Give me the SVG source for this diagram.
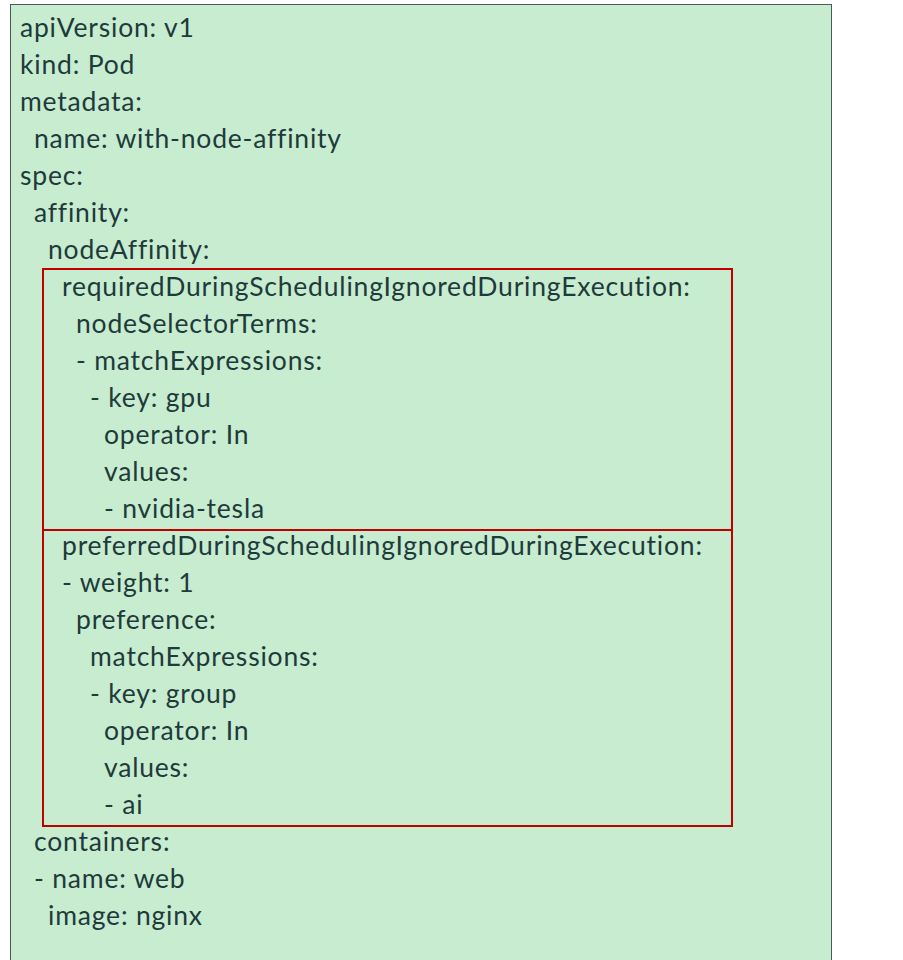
<svg xmlns="http://www.w3.org/2000/svg" width="903" height="960" viewBox="0 0 903 960">
<style>
text{font-family:Lato,"Open Sans",sans-serif;font-size:26.5px;letter-spacing:0.8px;fill:#1e3a3a}
.r{fill:none;stroke:#c00000;stroke-width:2}
</style>
<rect width="903" height="960" fill="#ffffff"/>
<g id="panel"><rect x="10.5" y="4.5" width="821" height="970" fill="#c8ecd0" stroke="#4a5a5a" stroke-width="1"/></g>
<g id="required"><rect class="r" x="43" y="269" width="689" height="261"/></g>
<g id="preferred"><rect class="r" x="43" y="530" width="689" height="296"/></g>
<g id="code">
<text x="20" y="37">apiVersion: v1</text>
<text x="20" y="74">kind: Pod</text>
<text x="20" y="111">metadata:</text>
<text x="34" y="148">name: with-node-affinity</text>
<text x="20" y="185">spec:</text>
<text x="34" y="222">affinity:</text>
<text x="48" y="259">nodeAffinity:</text>
<text x="62" y="296">requiredDuringSchedulingIgnoredDuringExecution:</text>
<text x="76" y="333">nodeSelectorTerms:</text>
<text x="76" y="370">- matchExpressions:</text>
<text x="90" y="407">- key: gpu</text>
<text x="104" y="444">operator: In</text>
<text x="104" y="481">values:</text>
<text x="104" y="518">- nvidia-tesla</text>
<text x="62" y="555">preferredDuringSchedulingIgnoredDuringExecution:</text>
<text x="62" y="592">- weight: 1</text>
<text x="76" y="629">preference:</text>
<text x="90" y="666">matchExpressions:</text>
<text x="90" y="703">- key: group</text>
<text x="104" y="740">operator: In</text>
<text x="104" y="777">values:</text>
<text x="104" y="814">- ai</text>
<text x="34" y="851">containers:</text>
<text x="34" y="888">- name: web</text>
<text x="48" y="925">image: nginx</text>
</g>
</svg>
